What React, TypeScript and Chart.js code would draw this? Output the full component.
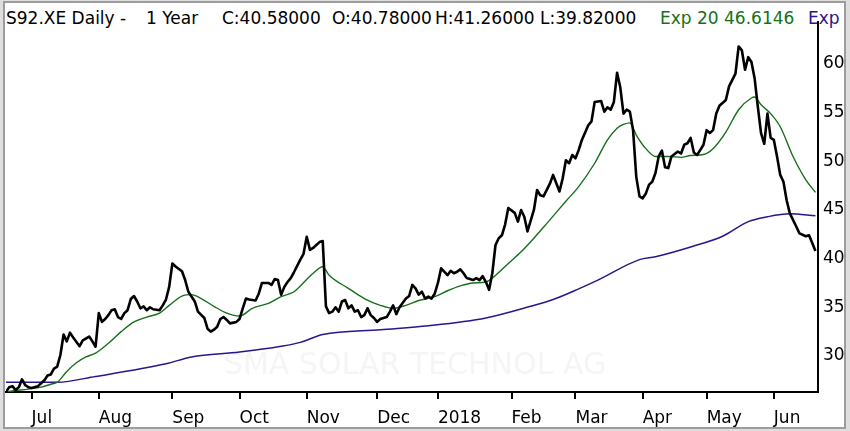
import React, { useEffect, useRef } from 'react';
import Chart from 'chart.js/auto';

// month start positions (trading-day index) and their labels
const monthTickDays = [8, 29, 52, 73, 94, 116, 135, 158, 178, 199, 219, 240];
const monthLabels = ['Jul', 'Aug', 'Sep', 'Oct', 'Nov', 'Dec', '2018', 'Feb', 'Mar', 'Apr', 'May', 'Jun'];
const priceTicks = [30, 35, 40, 45, 50, 55, 60];

// daily close (trading-day index / price)
const closeDays = [
  0, 1, 2, 3, 4, 5, 6, 7, 8, 10, 11, 12, 13, 14, 15, 16, 17, 18, 19, 20, 21, 23, 24, 26, 27, 28, 29, 30,
  31, 32, 33, 34, 35, 36, 37, 38, 39, 40, 41, 42, 43, 44, 45, 46, 48, 49, 50, 51, 52, 53, 55, 56, 57, 59,
  60, 62, 63, 64, 65, 66, 67, 68, 69, 70, 72, 73, 74, 75, 76, 78, 79, 80, 82, 83, 84, 85, 86, 87, 88, 89,
  90, 92, 93, 94, 95, 96, 97, 98, 99, 100, 101, 102, 103, 104, 105, 106, 107, 108, 109, 110, 111, 112, 113,
  114, 115, 116, 117, 119, 120, 121, 122, 123, 125, 126, 127, 128, 129, 130, 131, 132, 133, 134, 135, 136,
  138, 139, 140, 141, 142, 143, 144, 146, 147, 148, 149, 150, 151, 152, 153, 154, 155, 156, 157, 159, 160,
  161, 162, 163, 165, 166, 167, 168, 170, 171, 173, 174, 175, 176, 177, 178, 179, 180, 182, 183, 184, 186,
  187, 188, 189, 190, 191, 192, 193, 194, 195, 196, 197, 198, 199, 200, 201, 202, 203, 204, 205, 206, 207,
  208, 210, 211, 212, 213, 214, 215, 216, 217, 218, 219, 220, 221, 222, 223, 225, 226, 228, 229, 230, 231,
  232, 233, 234, 235, 236, 237, 238, 239, 240, 241, 242, 243, 244, 245, 247, 248, 250, 251, 252, 253,
];
const closeValues = [
  26.1, 26.6, 26.7, 26.3, 26.6, 27.4, 26.8, 26.6, 26.5, 26.7, 27.0, 27.3, 27.8, 27.9, 28.5, 28.7, 29.9, 32.0,
  31.3, 32.2, 31.7, 30.8, 31.4, 31.8, 31.3, 30.75, 34.2, 33.3,
  33.6, 34.0, 34.5, 34.6, 33.8, 33.6, 34.2, 34.5, 35.65, 35.96, 35.4, 34.7, 34.9, 34.5, 34.8, 34.6, 34.5, 35.0,
  35.6, 36.9, 39.3, 39.0, 38.5, 37.6, 36.4, 35.4,
  34.35, 33.7, 32.6, 32.3, 32.5, 32.8, 33.6, 33.8, 33.5, 33.15, 33.3, 33.6, 34.7, 35.7, 35.6, 35.5, 36.2, 37.3,
  37.3, 37.1, 37.7, 37.6, 36.1, 36.9, 37.4, 37.8,
  38.4, 39.7, 40.3, 42.05, 40.7, 40.9, 41.2, 41.5, 41.6, 34.9, 34.2, 34.35, 34.8, 34.35, 35.4, 35.55, 34.7, 35.0,
  34.35, 34.5, 33.8, 34.0, 34.7,
  34.0, 33.7, 33.3, 33.6, 33.8, 34.35, 35.0, 34.1, 34.8, 35.7, 35.96, 37.1, 36.75, 36.1, 36.4, 35.7, 35.9, 35.7,
  36.2, 37.3, 38.8,
  38.1, 38.55, 38.3, 38.45, 38.7, 38.3, 37.8, 37.6, 37.8, 37.6, 38.0, 37.4, 36.6, 38.3, 41.2, 41.9, 42.2, 43.3,
  45.0, 44.5, 43.6,
  44.8, 44.1, 42.6, 44.8, 46.85, 46.3, 46.2, 47.5, 48.4, 46.7, 48.05, 49.9, 49.6, 50.45, 50.1, 50.96, 51.99, 53.5,
  53.9, 55.9, 56.0,
  54.9, 55.35, 55.1, 55.9, 58.9, 57.4, 54.7, 55.1, 54.9, 53.0, 48.2, 46.2, 46.0, 46.5, 47.4, 47.7, 48.6, 50.3,
  50.9, 49.2, 49.1,
  50.3, 50.8, 50.6, 51.5, 51.65, 52.2, 50.7, 50.45, 50.96, 51.5, 53.0, 52.7, 53.0, 54.7, 55.5, 56.1, 57.5, 58.8,
  61.6, 61.2, 59.2,
  60.5, 60.0, 58.3, 55.4, 52.7, 51.6, 54.7, 52.2, 52.0, 50.3, 48.4, 47.7, 45.8, 44.45, 43.1, 42.4, 42.1, 42.2,
  41.4, 40.58,
];

// Exp 20 (green)
const ema20Days = [
  0, 2, 7, 11, 14, 16, 19, 22, 25, 28, 32, 36, 40, 44, 48, 51, 55, 58, 61, 65, 69, 73, 77, 82, 86, 90, 92, 96,
  99, 101, 107, 112, 117, 121, 125, 129, 134, 138, 142, 146, 150, 152, 157, 161, 165, 169, 175, 179, 184, 188,
  191, 193, 195, 197, 200, 203, 207, 211, 214, 218, 221, 225, 229, 233, 234, 236, 239, 242, 246, 250, 253,
];
const ema20Values = [
  26.1, 26.2, 26.4, 26.6, 26.9, 27.1, 28.2, 29.1, 29.7, 30.1, 31.1, 32.3, 33.3, 33.8, 34.2, 35.0, 35.96, 36.1,
  35.7, 34.9, 34.2, 33.9, 34.7, 35.2, 35.9, 36.4, 37.0, 38.3,
  38.97, 38.1, 36.75, 35.7, 35.0, 34.7, 35.0, 35.5, 35.9, 36.5, 37.0, 37.3, 37.4, 37.8, 39.3, 40.5, 41.9, 43.4,
  45.7, 47.2, 49.6, 52.0,
  53.2, 53.6, 53.75, 52.5, 51.1, 50.3, 50.3, 50.2, 50.4, 50.5, 51.1, 52.8, 55.1, 56.3, 56.4, 55.6, 54.7, 53.35,
  50.3, 47.9, 46.61,
];

// long Exp (purple)
const emaLongDays = [0, 16, 28, 50, 58, 73, 86, 92, 99, 117, 132, 150, 164, 171, 179, 185, 198, 203, 214, 224, 232, 238, 245, 253];
const emaLongValues = [
  27.1, 27.1, 27.7, 29.0, 29.7, 30.2, 30.8, 31.2, 32.0, 32.5, 32.9, 33.7, 34.9, 35.6, 36.7, 37.6, 39.7, 40.0,
  41.0, 42.1, 43.6, 44.1, 44.4, 44.2,
];

// header pieces: [text, left px, colour]
const headerParts: [string, number, string][] = [
  ['S92.XE Daily -', 6, '#000'],
  ['1 Year', 146, '#000'],
  ['C:40.58000', 222, '#000'],
  ['O:40.78000', 332, '#000'],
  ['H:41.26000', 435, '#000'],
  ['L:39.82000', 540, '#000'],
  ['Exp 20 46.6146', 660, '#16701a'],
  ['Exp', 808, '#2e148c'],
];

const FONT = "'DejaVu Sans', Verdana, sans-serif";
const GREEN = '#16701a';
const PURPLE = '#2e148c';

const toPoints = (days: number[], values: number[]) => days.map((d, i) => ({ x: d, y: values[i] }));

const watermark = {
  id: 'watermark',
  beforeDatasetsDraw(chart: any) {
    const { ctx } = chart;
    ctx.save();
    ctx.fillStyle = '#f5f5f5';
    ctx.font = `30px ${FONT}`;
    ctx.textAlign = 'center';
    ctx.textBaseline = 'middle';
    ctx.fillText('SMA SOLAR TECHNOL AG', 415, 366);
    ctx.restore();
  },
};

const App: React.FC = () => {
  const canvasRef = useRef<HTMLCanvasElement>(null);
  const chartRef = useRef<any>(null);

  useEffect(() => {
    if (!canvasRef.current) return;
    if (chartRef.current) chartRef.current.destroy();

    chartRef.current = new Chart(canvasRef.current, {
      type: 'line',
      data: {
        datasets: [
          {
            label: 'Close',
            data: toPoints(closeDays, closeValues),
            borderColor: '#000',
            borderWidth: 2.6,
            pointRadius: 0,
            tension: 0,
            borderJoinStyle: 'round',
          },
          {
            label: 'Exp 20',
            data: toPoints(ema20Days, ema20Values),
            borderColor: GREEN,
            borderWidth: 1.4,
            pointRadius: 0,
            cubicInterpolationMode: 'monotone',
          },
          {
            label: 'Exp',
            data: toPoints(emaLongDays, emaLongValues),
            borderColor: PURPLE,
            borderWidth: 1.5,
            pointRadius: 0,
            cubicInterpolationMode: 'monotone',
          },
        ],
      },
      options: {
        animation: false,
        responsive: true,
        maintainAspectRatio: false,
        layout: { padding: { left: 6, top: 22, right: 0, bottom: 0 } },
        plugins: {
          legend: { display: false },
          tooltip: { enabled: false },
        },
        scales: {
          x: {
            type: 'linear',
            min: 0,
            max: 253.8,
            afterBuildTicks: (s: any) => {
              s.ticks = monthTickDays.map(v => ({ value: v }));
            },
            afterFit: (s: any) => {
              s.height = 39;
              s.paddingLeft = 0;
              s.paddingRight = 0;
            },
            ticks: {
              autoSkip: false,
              maxRotation: 0,
              align: 'start',
              padding: 9,
              color: '#000',
              font: { family: FONT, size: 17 },
              callback: (v: any) => monthLabels[monthTickDays.indexOf(v)] ?? '',
            },
            grid: { drawOnChartArea: false, drawTicks: true, tickLength: 7, color: '#000', lineWidth: 2 },
            border: { display: true, color: '#000', width: 2 },
          },
          y: {
            type: 'linear',
            position: 'right',
            min: 26.1,
            max: 64.11,
            afterBuildTicks: (s: any) => {
              s.ticks = priceTicks.map(v => ({ value: v }));
            },
            afterFit: (s: any) => {
              s.width = 32;
              s.paddingTop = 0;
              s.paddingBottom = 0;
            },
            ticks: {
              padding: 5,
              labelOffset: 2,
              color: '#000',
              font: { family: FONT, size: 17 },
            },
            grid: { drawOnChartArea: false, drawTicks: false },
            border: { display: true, color: '#000', width: 2 },
          },
        },
      },
      plugins: [watermark],
    });

    return () => {
      if (chartRef.current) chartRef.current.destroy();
      chartRef.current = null;
    };
  }, []);

  return (
    <div style={{ position: 'fixed', left: 0, top: 0, width: 850, height: 431, background: '#dedede', overflow: 'hidden' }}>
      <div
        style={{
          position: 'absolute', left: 3, top: 1, width: 839, height: 424,
          border: '2px solid #9c9c9c', background: '#fff',
        }}
      />
      <div
        style={{
          position: 'absolute', left: 0, top: 7, width: 844, height: 22, overflow: 'hidden',
          fontFamily: FONT, fontSize: 17, lineHeight: '22px',
        }}
      >
        {headerParts.map(([text, left, color]) => (
          <span key={text} style={{ position: 'absolute', left, top: 0, color, whiteSpace: 'pre' }}>{text}</span>
        ))}
      </div>
      <div style={{ position: 'absolute', left: 0, top: 0, width: 850, height: 431 }}>
        <canvas ref={canvasRef}></canvas>
      </div>
    </div>
  );
};

export default App;
